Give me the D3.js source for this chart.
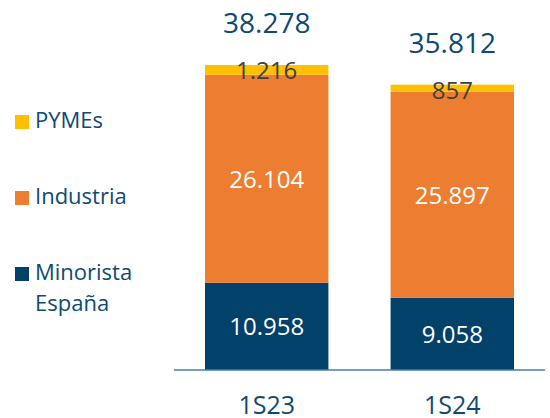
<!DOCTYPE html>
<html><head><meta charset="utf-8">
<script src="https://cdn.jsdelivr.net/npm/d3@7"></script>
<style>body{margin:0;background:#fff}svg{display:block}text{font-family:"Open Sans",sans-serif}</style>
</head><body>
<svg id="c" width="550" height="418"></svg>
<script>
const categories = ["1S23", "1S24"];
const seriesNames = ["Minorista España", "Industria", "PYMEs"];
const minorista = [10.958, 9.058];
const industria = [26.104, 25.897];
const pymes = [1.216, 0.857];
const totals = [38.278, 35.812];
const labelsMinorista = ["10.958", "9.058"];
const labelsIndustria = ["26.104", "25.897"];
const labelsPymes = ["1.216", "857"];
const labelsTotal = ["38.278", "35.812"];

const colors = {"Minorista España": "#02416a", "Industria": "#ed7d31", "PYMEs": "#ffc000"};
const textBlue = "#0e4a73";

const svg = d3.select("#c");
const x = d3.scaleBand().domain(categories).range([205, 514]).paddingInner(0.335).paddingOuter(0);
const y = d3.scaleLinear().domain([0, 46.44]).range([370, 0]);

const data = categories.map((c, i) => ({cat: c, "Minorista España": minorista[i], "Industria": industria[i], "PYMEs": pymes[i]}));
const stack = d3.stack().keys(seriesNames)(data);

svg.append("g").selectAll("g").data(stack).join("g")
  .attr("fill", d => colors[d.key])
  .selectAll("rect").data(d => d).join("rect")
  .attr("x", d => x(d.data.cat))
  .attr("width", x.bandwidth())
  .attr("y", d => y(d[1]))
  .attr("height", d => y(d[0]) - y(d[1]));

// axis
const axis = svg.append("g").attr("transform", "translate(0,370)")
  .call(d3.axisBottom(x).tickSize(0).tickPadding(26));
axis.select(".domain").attr("stroke", "#4a7ea6").attr("stroke-width", 1.5).attr("d", "M174,0H545");
axis.selectAll(".tick text").attr("font-size", 25).attr("fill", textBlue).attr("font-family", "Open Sans, sans-serif").attr("dy", "0.71em");

// inside labels
const lbl = (vals, pos, fill, size, dy) => svg.append("g").selectAll("text").data(categories).join("text")
  .attr("x", d => x(d) + x.bandwidth() / 2)
  .attr("y", (d, i) => pos(i) + dy)
  .attr("text-anchor", "middle").attr("font-size", size).attr("fill", fill)
  .text((d, i) => vals[i]);

lbl(labelsMinorista, i => y(minorista[i] / 2), "#fff", 24, 9);
lbl(labelsIndustria, i => y(minorista[i] + industria[i] / 2), "#fff", 24, 9);
lbl(labelsPymes, i => y(totals[i]), "#404040", 24, 14);
lbl(labelsTotal, i => y(totals[i]), textBlue, 28, -32);

// legend
const legend = [
  {name: "PYMEs", lines: ["PYMEs"], y: 128},
  {name: "Industria", lines: ["Industria"], y: 204},
  {name: "Minorista España", lines: ["Minorista", "España"], y: 280}
];
const lg = svg.append("g").selectAll("g").data(legend).join("g");
lg.append("rect").attr("x", 15).attr("y", d => d.y - 13).attr("width", 14).attr("height", 14)
  .attr("fill", d => colors[d.name]);
lg.each(function(d) {
  const t = d3.select(this).append("text").attr("x", 35).attr("y", d.y).attr("font-size", 22).attr("fill", textBlue);
  d.lines.forEach((l, k) => t.append("tspan").attr("x", 35).attr("dy", k === 0 ? 0 : 31).text(l));
});
</script>
</body></html>
